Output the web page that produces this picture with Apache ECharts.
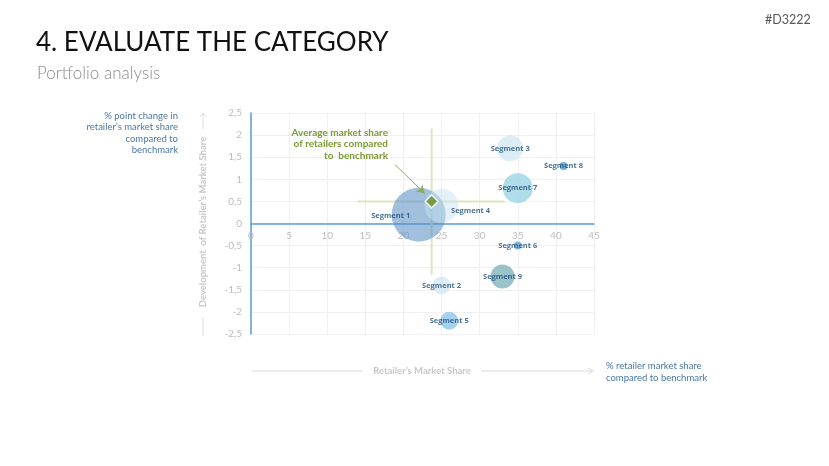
<!DOCTYPE html>
<html>
<head>
<meta charset="utf-8">
<script src="https://cdn.jsdelivr.net/npm/echarts@6/dist/echarts.min.js"></script>
<style>
    html, body { margin: 0; padding: 0; background: #fff; }
    #chart { width: 829px; height: 466px; }
</style>
</head>
<body>
<div id="chart"></div>
<script>
// data
const segments = ['Segment 1', 'Segment 2', 'Segment 3', 'Segment 4', 'Segment 5', 'Segment 6', 'Segment 7', 'Segment 8', 'Segment 9']
const marketShare = [22, 25, 34, 25, 26, 35, 35, 41, 33]
const shareChange = [0.2, -1.4, 1.7, 0.4, -2.2, -0.5, 0.8, 1.3, -1.2]
const bubbleSize = [54, 18, 26, 34, 18, 8, 30, 8, 24]
const avgPoint = [23.7, 0.5]
const avgHLine = [[14, 0.5], [33.3, 0.5]]
const avgVLine = [[23.7, 2.15], [23.7, -1.17]]
const arrowLine = [[18.9, 1.33], [22.8, 0.68]]

const bubbleColors = [
    'rgba(90, 145, 198, 0.72)',
    '#d5e9f6',
    '#d2e9f2',
    'rgba(200, 225, 240, 0.6)',
    '#8cc5ea',
    '#5ba5d8',
    '#9ed3e3',
    '#4b9bd5',
    '#7fb3bc',
]
const labelOffsets = {
    'Segment 1': [-28, 1],
    'Segment 4': [29, 5],
}

const font = 'Lato, "Open Sans", sans-serif'
const blueText = '#4a78a3'
const greyText = '#c8c8c8'
const green = '#7a9a35'

const chart = echarts.init(document.getElementById('chart'))

chart.setOption({
    animation: false,
    textStyle: { fontFamily: font },
    grid: { left: 251, top: 113, right: 235, bottom: 132 },
    xAxis: {
        type: 'value',
        min: 0,
        max: 45,
        interval: 5,
        // zero sits in the middle of -2.5..2.5, so lift the whole axis there
        offset: -110.5,
        axisLine: { onZero: false, lineStyle: { color: '#5b9bd5', width: 1.5 } },
        axisTick: { show: false },
        axisLabel: { color: '#bdbdbd', fontSize: 10, margin: 7 },
        splitLine: { lineStyle: { color: '#f0f0f0' } },
    },
    yAxis: {
        type: 'value',
        min: -2.5,
        max: 2.5,
        interval: 0.5,
        axisLine: { show: true, onZero: false, lineStyle: { color: '#5b9bd5', width: 1.5 } },
        axisTick: { show: false },
        axisLabel: {
            color: '#bdbdbd',
            fontSize: 10,
            margin: 9,
            formatter: (v) => String(v).replace('.', ','),
        },
        splitLine: { lineStyle: { color: '#f0f0f0' } },
    },
    series: [
        {
            type: 'line',
            data: avgHLine,
            symbol: 'none',
            lineStyle: { color: '#d9e6c0', width: 2 },
            z: 3,
        },
        {
            type: 'line',
            data: avgVLine,
            symbol: 'none',
            lineStyle: { color: '#d9e6c0', width: 2 },
            z: 3,
        },
        {
            type: 'scatter',
            z: 4,
            data: segments.map((name, i) => ({
                name,
                value: [marketShare[i], shareChange[i]],
                symbolSize: bubbleSize[i],
                itemStyle: { color: bubbleColors[i] },
                label: {
                    show: true,
                    formatter: name,
                    position: 'inside',
                    offset: labelOffsets[name] || [0, 0],
                    color: '#1f4e79',
                    fontSize: 7.5,
                    fontWeight: 'bold',
                    fontFamily: '"Open Sans", sans-serif',
                },
            })),
            markLine: {
                silent: true,
                symbol: ['none', 'arrow'],
                symbolSize: [7, 8],
                label: { show: false },
                lineStyle: { color: '#8fab55', width: 1, type: 'solid' },
                data: [[{ coord: arrowLine[0] }, { coord: arrowLine[1] }]],
            },
        },
        {
            type: 'scatter',
            z: 6,
            data: [avgPoint],
            symbol: 'diamond',
            symbolSize: [13, 13],
            itemStyle: { color: '#6b8e23', borderColor: '#fff', borderWidth: 1.5 },
        },
    ],
    graphic: [
        {
            type: 'text', left: 765, top: 13,
            style: { text: '#D3222', fill: '#595959', font: '12.5px ' + font },
        },
        {
            type: 'text', left: 36, top: 30,
            style: { text: '4. EVALUATE THE CATEGORY', fill: '#111', font: '26px ' + font },
        },
        {
            type: 'text', left: 37, top: 65,
            style: { text: 'Portfolio analysis', fill: '#8c8c8c', font: '300 17px ' + font },
        },
        {
            type: 'text', z: 10,
            style: {
                x: 178, y: 110, textAlign: 'right',
                text: '% point change in\nretailer\u2019s market share\ncompared to\nbenchmark',
                fill: blueText, font: '9.5px ' + font, lineHeight: 11.5,
            },
        },
        {
            type: 'text', z: 10,
            style: {
                x: 606, y: 360, textAlign: 'left',
                text: '% retailer market share\ncompared to benchmark',
                fill: blueText, font: '9.5px ' + font, lineHeight: 12,
            },
        },
        {
            type: 'text', z: 10,
            style: {
                x: 388, y: 127, textAlign: 'right',
                text: 'Average market share\nof retailers compared\nto  benchmark',
                fill: green, font: 'bold 10px ' + font, lineHeight: 11.5,
            },
        },
        // x axis name with arrow
        {
            type: 'text', z: 10,
            style: {
                x: 422, y: 371, textAlign: 'center', textVerticalAlign: 'middle',
                text: 'Retailer\u2019s Market Share', fill: greyText, font: 'bold 9.5px ' + font,
            },
        },
        { type: 'line', shape: { x1: 252, y1: 371, x2: 363, y2: 371 }, style: { stroke: '#dcdcdc', lineWidth: 1 } },
        { type: 'line', shape: { x1: 481, y1: 371, x2: 593, y2: 371 }, style: { stroke: '#dcdcdc', lineWidth: 1 } },
        { type: 'polyline', shape: { points: [[588, 368], [593, 371], [588, 374]] }, style: { stroke: '#dcdcdc', fill: null, lineWidth: 1 } },
        // y axis name with arrow
        {
            type: 'text', z: 10, x: 203, y: 222, rotation: Math.PI / 2,
            style: {
                x: 0, y: 0, textAlign: 'center', textVerticalAlign: 'middle',
                text: 'Development  of Retailer\u2019s Market Share', fill: greyText, font: 'bold 9.5px ' + font,
            },
        },
        { type: 'line', shape: { x1: 203, y1: 318, x2: 203, y2: 336 }, style: { stroke: '#dcdcdc', lineWidth: 1 } },
        { type: 'line', shape: { x1: 203, y1: 113, x2: 203, y2: 129 }, style: { stroke: '#dcdcdc', lineWidth: 1 } },
        { type: 'polyline', shape: { points: [[200, 117], [203, 113], [206, 117]] }, style: { stroke: '#dcdcdc', fill: null, lineWidth: 1 } },
    ],
})
</script>
</body>
</html>
